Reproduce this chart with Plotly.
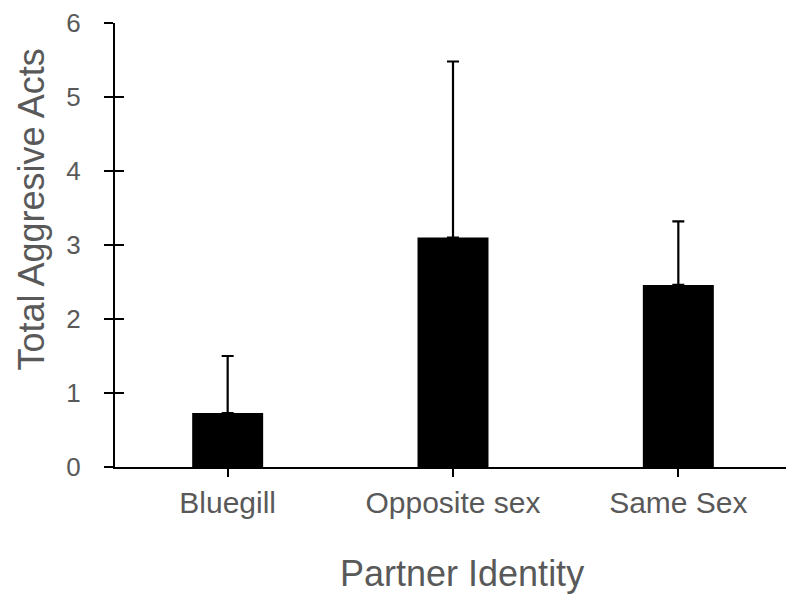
import plotly.graph_objects as go

categories = ["Bluegill", "Opposite sex", "Same Sex"]
means = [0.73, 3.10, 2.46]
errors_up = [0.77, 2.38, 0.86]
y_ticks = [0, 1, 2, 3, 4, 5, 6]
x_title = "Partner Identity"
y_title = "Total Aggresive Acts"

xpos = list(range(len(categories)))
FONT = "Arial, Liberation Sans, sans-serif"
GRAY = "#595959"

W, H = 786, 586
ML, MR, MT, MB = 107, 3, 15, 127
PW, PH = W - ML - MR, H - MT - MB

fig = go.Figure()
fig.add_trace(go.Bar(
    x=xpos, y=means, width=0.315,
    marker=dict(color="black", line=dict(width=0)),
    error_y=dict(type="data", symmetric=False, array=errors_up,
                 arrayminus=[0] * len(means), color="black",
                 thickness=2.2, width=6),
    showlegend=False,
))
# invisible trace on overlay axes so they render
fig.add_trace(go.Scatter(x=[None], y=[None], xaxis="x2", yaxis="y2",
                         showlegend=False, hoverinfo="skip"))

fig.update_layout(
    width=W, height=H,
    margin=dict(l=ML, r=MR, t=MT, b=MB, autoexpand=False),
    paper_bgcolor="white", plot_bgcolor="white",
    font=dict(family=FONT, color=GRAY),
    xaxis=dict(
        range=[-0.5, 2.5], tickmode="array", automargin=False,
        tickvals=xpos + [2.5], ticktext=categories + [""],
        ticks="outside", ticklen=8, tickwidth=2, tickcolor="black",
        showline=True, linecolor="black", linewidth=2,
        showgrid=False, zeroline=False,
        tickfont=dict(size=30, color=GRAY, family=FONT),
    ),
    yaxis=dict(
        range=[0, 6], tickmode="array", tickvals=y_ticks, automargin=False,
        ticks="outside", ticklen=9, tickwidth=2, tickcolor="black",
        showline=True, linecolor="black", linewidth=2,
        showgrid=False, zeroline=False,
        tickfont=dict(size=26, color=GRAY, family=FONT),
        ticklabelstandoff=18, ticklabeloverflow="allow",
    ),
    xaxis2=dict(
        overlaying="x", anchor="y", side="bottom", range=[-0.5, 2.5],
        tickmode="array", tickvals=[2.5], ticks="inside", ticklen=8,
        tickwidth=2, tickcolor="black", showticklabels=False, automargin=False,
        showline=False, showgrid=False, zeroline=False,
    ),
    yaxis2=dict(
        overlaying="y", anchor="x", side="left", range=[0, 6],
        tickmode="array", tickvals=y_ticks, ticks="inside", ticklen=9,
        tickwidth=2, tickcolor="black", showticklabels=False, automargin=False,
        showline=False, showgrid=False, zeroline=False,
    ),
    annotations=[
        dict(text=x_title, xref="paper", yref="paper",
             x=(453.7 - ML) / PW, y=0, xanchor="center", yanchor="top",
             yshift=-84, showarrow=False,
             font=dict(size=36, color=GRAY, family=FONT)),
        dict(text=y_title, xref="paper", yref="paper", textangle=-90,
             x=-ML / PW, y=(H - MB - 202) / PH, xanchor="left", yanchor="middle",
             showarrow=False,
             font=dict(size=36, color=GRAY, family=FONT)),
    ],
)

fig.write_html("out.html")
